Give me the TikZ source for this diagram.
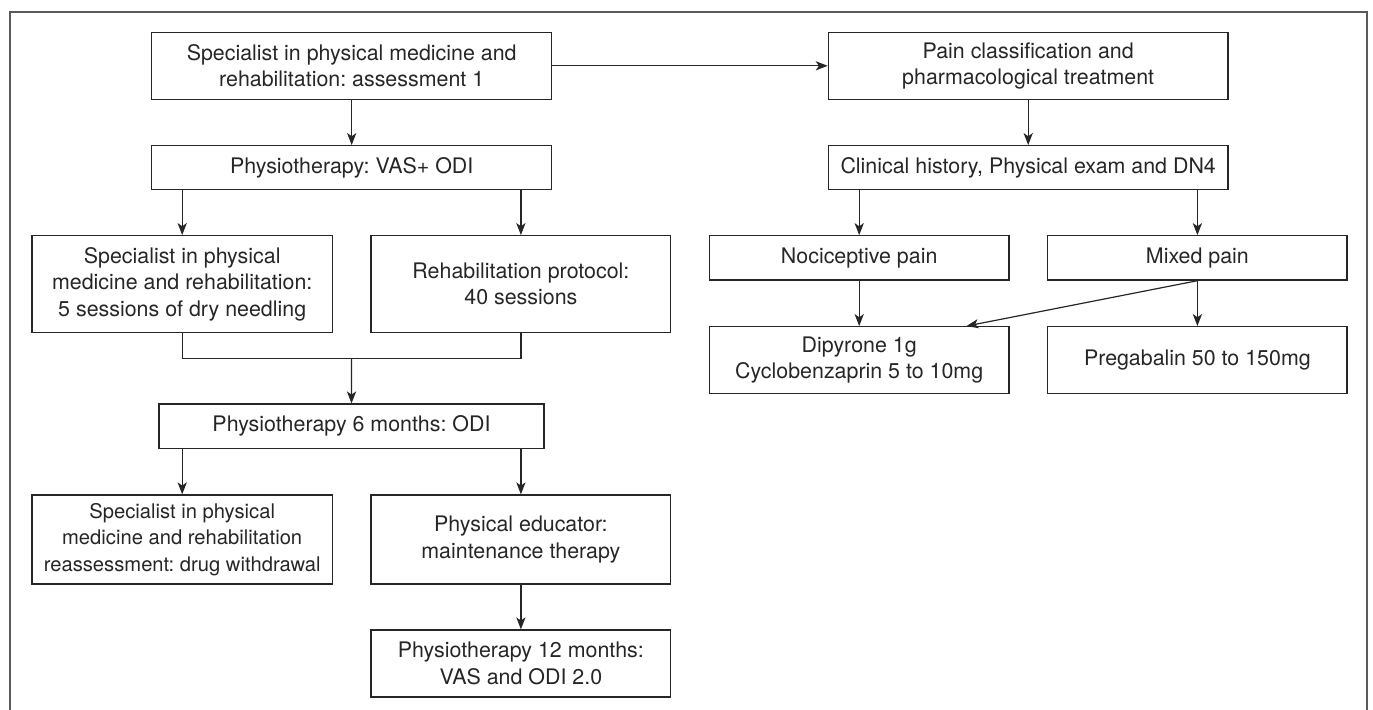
\documentclass[tikz,border=0pt]{standalone}
\usepackage{fontspec}
\setmainfont{TeX Gyre Heros}
\usetikzlibrary{arrows.meta,calc}
\definecolor{ink}{HTML}{262626}
\definecolor{framegray}{HTML}{5A5A5A}
\frenchspacing
\begin{document}
\begin{tikzpicture}[x=0.5pt,y=-0.5pt,
  box/.style={draw=ink,line width=0.65pt,rectangle,inner sep=0pt,align=center,
    text=ink,font=\fontsize{10.7pt}{13.3pt}\selectfont},
  conn/.style={draw=ink,line width=0.6pt},
  arr/.style={conn,-{Stealth[length=6pt,width=4.6pt,inset=1.6pt]}}]
\useasboundingbox (0,0) rectangle (1373,709);
\begin{scope}
\clip (0,0) rectangle (1373,709);
\draw[framegray,line width=1pt] (10,730) -- (10,12.3) -- (1367,12.3) -- (1367,730);
\end{scope}
% left column
\node[box,minimum width=200pt,minimum height=33.5pt] (spec1) at (351.7,65.8)
  {Specialist in physical medicine and\\rehabilitation: assessment 1};
\node[box,minimum width=200pt,minimum height=22pt] (physio) at (351.7,167.7)
  {Physiotherapy: VAS+ ODI};
\node[box,minimum width=150.15pt,minimum height=48.3pt] (needle) at (182.2,284)
  {Specialist in physical\\medicine and rehabilitation:\\5 sessions of dry needling};
\node[box,minimum width=149.85pt,minimum height=48.3pt] (rehab) at (520.9,284)
  {Rehabilitation protocol:\\40 sessions};
\coordinate (j) at (351.6,358.7);
\node[box,minimum width=192.5pt,minimum height=22.15pt] (sixmo) at (351.5,426.2)
  {Physiotherapy 6 months: ODI};
\node[box,minimum width=150.15pt,minimum height=44.5pt,
  font=\fontsize{10.1pt}{13.3pt}\selectfont] (withdraw) at (182.2,539.5)
  {Specialist in physical\\medicine and rehabilitation\\reassessment: drug withdrawal};
\node[box,minimum width=149.85pt,minimum height=44.5pt] (educ) at (520.9,539.5)
  {Physical educator:\\maintenance therapy};
\node[box,minimum width=149.85pt,minimum height=33.5pt] (twelve) at (520.9,663.5)
  {Physiotherapy 12 months:\\VAS and ODI 2.0};
% right column
\node[box,minimum width=199.85pt,minimum height=33.5pt] (pain) at (1028.2,65.8)
  {Pain classification and\\pharmacological treatment};
\node[box,minimum width=199.85pt,minimum height=22pt] (clin) at (1028.2,167.7)
  {Clinical history, Physical exam and DN4};
\node[box,minimum width=149.85pt,minimum height=22.15pt] (noci) at (859.2,257.9)
  {Nociceptive pain};
\node[box,minimum width=149.65pt,minimum height=22.15pt] (mixed) at (1197.4,257.9)
  {Mixed pain};
\node[box,minimum width=149.85pt,minimum height=33.3pt] (dipy) at (859.2,360)
  {Dipyrone 1g\\Cyclobenzaprin 5 to 10mg};
\node[box,minimum width=149.65pt,minimum height=33.3pt] (prega) at (1197.4,360)
  {Pregabalin 50 to 150mg};
% connectors
\draw[arr] (spec1) -- (pain);
\draw[arr] (spec1) -- (physio);
\draw[arr] (needle.north |- physio.south) -- (needle.north);
\draw[arr] (rehab.north |- physio.south) -- (rehab.north);
\draw[conn] (needle.south) |- (j) -| (rehab.south);
\draw[arr] (j) -- (sixmo.north);
\draw[arr] (withdraw.north |- sixmo.south) -- (withdraw.north);
\draw[arr] (educ.north |- sixmo.south) -- (educ.north);
\draw[arr] (educ) -- (twelve);
\draw[arr] (pain) -- (clin);
\draw[arr] (noci.north |- clin.south) -- (noci.north);
\draw[arr] (mixed.north |- clin.south) -- (mixed.north);
\draw[arr] (noci) -- (dipy);
\draw[arr] (mixed) -- (prega);
\draw[arr] (mixed.south) -- ($(dipy.north west)!0.8565!(dipy.north east)$);
\end{tikzpicture}
\end{document}
